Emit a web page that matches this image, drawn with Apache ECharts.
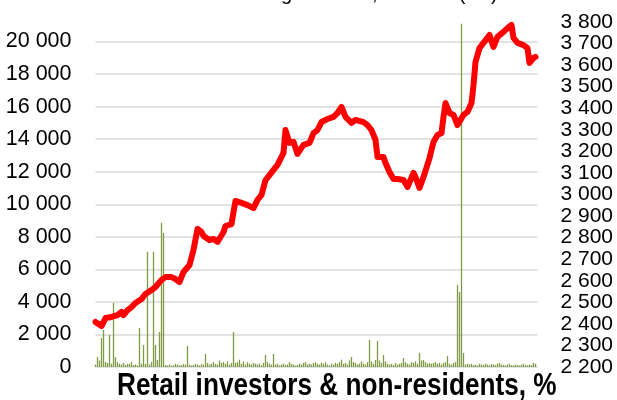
<!DOCTYPE html>
<html>
<head>
<meta charset="utf-8">
<script src="https://cdn.jsdelivr.net/npm/echarts@6/dist/echarts.min.js"></script>
<style>
  html, body { margin: 0; padding: 0; background: #fff; }
  #chart { width: 617px; height: 400px; }
</style>
</head>
<body>
<div id="chart"></div>
<script>
// index (right axis): trading day -> value
const indexDays = [0, 3, 5, 8, 9, 11, 13, 14, 16, 18, 20, 23, 25, 28, 30, 33, 35, 38, 40, 42,
  44, 47, 49, 51, 53, 54, 57, 59, 61, 64, 65, 68, 69, 70, 73, 76, 79, 81, 83, 85,
  87, 89, 91, 94, 95, 97, 99, 101, 104, 107, 109, 111, 113, 116, 119, 121, 123, 125, 128, 130,
  134, 136, 138, 140, 141, 144, 145, 147, 149, 151, 154, 156, 159, 160, 162, 164, 167, 169, 171, 173,
  174, 175, 177, 179, 181, 184, 186, 188, 189, 190, 192, 194, 197, 199, 201, 204, 206, 208, 209, 211,
  214, 216, 217, 219, 220];
const indexValues = [2409, 2390, 2427, 2432, 2441, 2441, 2455, 2441, 2464, 2478, 2497, 2515, 2539, 2557, 2571, 2604, 2617, 2617, 2608, 2594,
  2641, 2673, 2743, 2840, 2826, 2808, 2789, 2794, 2780, 2826, 2854, 2863, 2919, 2970, 2961, 2951, 2937, 2975, 2998, 3067,
  3090, 3114, 3137, 3193, 3299, 3239, 3244, 3188, 3230, 3239, 3285, 3299, 3336, 3350, 3360, 3378, 3406, 3360, 3332, 3346,
  3336, 3322, 3299, 3253, 3174, 3174, 3146, 3104, 3072, 3072, 3067, 3035, 3100, 3081, 3030, 3081, 3169, 3244, 3276, 3285,
  3360, 3424, 3378, 3369, 3322, 3369, 3383, 3424, 3508, 3615, 3679, 3703, 3740, 3684, 3731, 3754, 3772, 3786, 3726, 3703,
  3693, 3679, 3610, 3633, 3638];

// share of retail investors & non-residents (left axis), one bar per trading day 0..220
const volume = [
  150, 615, 400, 1785, 2277, 300, 250, 1970, 200, 3940,
  600, 300, 200, 150, 250, 120, 180, 200, 300, 120,
  150, 100, 2400, 200, 1350, 200, 7080, 150, 300, 7080,
  1350, 430, 2150, 8860, 8240, 120, 100, 150, 80, 100,
  200, 150, 100, 120, 180, 150, 1290, 150, 100, 120,
  200, 150, 100, 180, 150, 800, 250, 150, 200, 300,
  180, 150, 400, 250, 300, 200, 350, 150, 250, 2150,
  250, 300, 450, 200, 350, 150, 300, 200, 150, 250,
  200, 150, 200, 100, 250, 740, 300, 200, 150, 800,
  150, 200, 100, 150, 200, 120, 150, 300, 200, 150,
  100, 120, 200, 150, 250, 300, 150, 200, 150, 250,
  300, 200, 150, 250, 200, 300, 150, 100, 200, 150,
  250, 200, 300, 450, 200, 250, 150, 400, 615, 300,
  250, 150, 200, 350, 200, 150, 300, 1660, 350, 200,
  430, 1600, 400, 250, 740, 350, 200, 150, 200, 120,
  250, 150, 200, 250, 550, 300, 200, 150, 300, 250,
  350, 200, 860, 400, 430, 300, 200, 250, 200, 250,
  300, 200, 250, 150, 250, 300, 680, 200, 150, 250,
  300, 5050, 4600, 21100, 860, 150, 200, 150, 200, 120,
  150, 100, 200, 150, 120, 200, 150, 100, 180, 150,
  120, 200, 250, 150, 120, 100, 150, 200, 120, 100,
  150, 120, 100, 150, 200, 120, 100, 150, 120, 250,
  200
];

const font = "'Liberation Sans', Arial, sans-serif";
const fmt = v => String(v).replace(/\B(?=(\d{3})+(?!\d))/g, ' ');

const chart = echarts.init(document.getElementById('chart'));
chart.setOption({
  animation: false,
  textStyle: { fontFamily: font },
  grid: { left: 95.5, right: 79.5, top: 22, bottom: 33, outerBoundsMode: 'none' },
  graphic: [
    {
      type: 'text', x: 225, y: -16,
      style: { text: 'Trading volumes, RUB bn (lhs)', font: '20px ' + font, fill: '#000' }
    },
    {
      // condensed bold caption under the plot
      type: 'text', x: 117, y: 371, scaleX: 0.845,
      style: { text: 'Retail investors & non-residents, %', font: 'bold 31px ' + font, fill: '#000' }
    }
  ],
  xAxis: { type: 'value', min: 0, max: 221, show: false },
  yAxis: [
    {
      type: 'value', min: 0, max: 21200, interval: 2000,
      axisLine: { show: false }, axisTick: { show: false },
      axisLabel: { fontSize: 21.5, color: '#000', margin: 24, showMinLabel: true, showMaxLabel: false, hideOverlap: false, formatter: fmt },
      splitLine: { showMaxLine: false, lineStyle: { color: '#d9d9d9', width: 1.5 } }
    },
    {
      type: 'value', min: 2200, max: 3800, interval: 100,
      axisLine: { show: false }, axisTick: { show: false },
      axisLabel: { fontSize: 21, color: '#000', margin: 23, showMinLabel: true, showMaxLabel: true, hideOverlap: false, formatter: fmt },
      splitLine: { show: false }
    }
  ],
  series: [
    {
      type: 'bar', yAxisIndex: 0, barWidth: 1.3,
      itemStyle: { color: '#7f9a44' },
      data: volume.map((v, i) => [i, v])
    },
    {
      type: 'line', yAxisIndex: 1, symbol: 'none', z: 3,
      lineStyle: { color: '#ff0000', width: 6, join: 'round', cap: 'round' },
      data: indexDays.map((d, i) => [d, indexValues[i]])
    }
  ]
});
</script>
</body>
</html>
